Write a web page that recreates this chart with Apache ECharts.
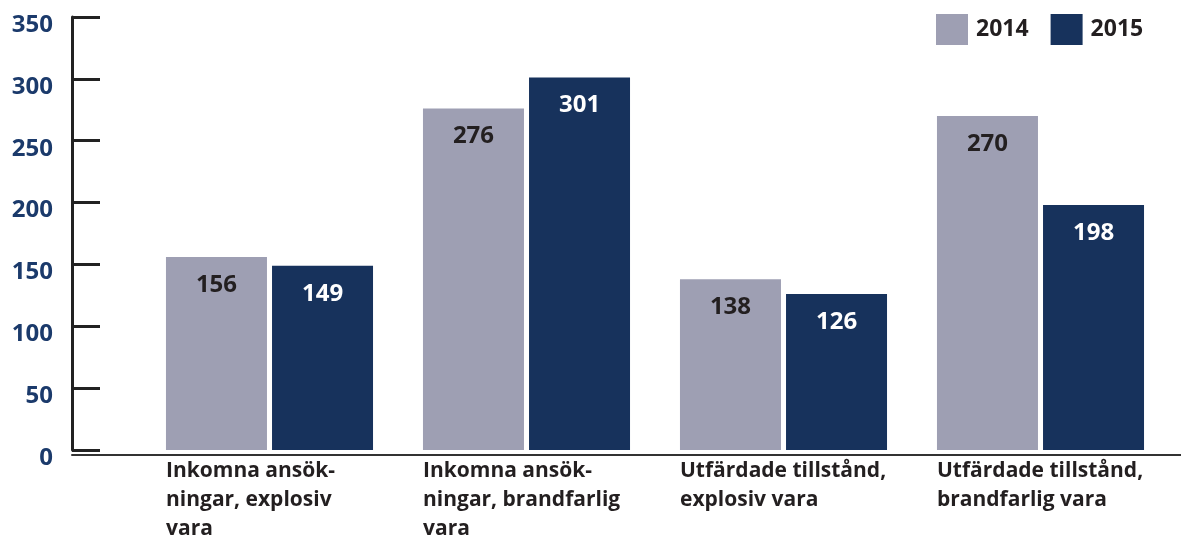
<!DOCTYPE html>
<html>
<head>
<meta charset="utf-8">
<script src="https://cdn.jsdelivr.net/npm/echarts@6/dist/echarts.min.js"></script>
<style>
  html, body { margin: 0; padding: 0; background: #fff; }
  #chart { width: 1181px; height: 540px; }
</style>
</head>
<body>
<div id="chart"></div>
<script>
const categories = [
  'Inkomna ansök-\nningar, explosiv\nvara',
  'Inkomna ansök-\nningar, brandfarlig\nvara',
  'Utfärdade tillstånd,\nexplosiv vara',
  'Utfärdade tillstånd,\nbrandfarlig vara'
]
const values2014 = [156, 276, 138, 270]
const values2015 = [149, 301, 126, 198]
const seriesNames = ['2014', '2015']

const FONT = '"Open Sans", "Noto Sans", sans-serif'
const TEXT = '#231f20'
const NAVY = '#17325c'
const GREY = '#9e9fb3'

const chart = echarts.init(document.getElementById('chart'))

const option = {
  animation: false,
  textStyle: { fontFamily: FONT },
  legend: {
    data: seriesNames,
    left: 936,
    top: 14,
    padding: 0,
    icon: 'rect',
    itemWidth: 32,
    itemHeight: 31,
    itemGap: 22,
    itemStyle: { borderWidth: 0 },
    textStyle: { fontSize: 23, fontWeight: 'bold', color: TEXT, fontFamily: FONT, padding: [0, 0, 0, 3] }
  },
  grid: [
    { left: 141, right: 12, top: 17, bottom: 85 },
    { left: 72, right: 0, top: 17, bottom: 85 }
  ],
  xAxis: [
    {
      type: 'category',
      gridIndex: 0,
      data: categories,
      axisLine: { show: false },
      axisTick: { show: false },
      axisLabel: {
        interval: 0,
        margin: 7,
        formatter: v => v.split('\n').map(l => '{a|' + l + '}').join('\n'),
        rich: {
          a: {
            width: 207,
            align: 'left',
            fontSize: 21,
            fontWeight: 'bold',
            lineHeight: 29,
            color: TEXT,
            fontFamily: FONT
          }
        }
      }
    },
    {
      type: 'value',
      gridIndex: 1,
      min: 0,
      max: 1,
      axisLine: { show: true, lineStyle: { color: '#333', width: 2 } },
      axisTick: { show: false },
      axisLabel: { show: false },
      splitLine: { show: false }
    }
  ],
  yAxis: [
    {
      type: 'value',
      gridIndex: 0,
      min: 0,
      max: 350,
      interval: 50,
      offset: 69,
      axisLine: { show: true, lineStyle: { color: '#222', width: 3 } },
      axisTick: { show: true, inside: true, length: 28, lineStyle: { color: '#222', width: 3 } },
      axisLabel: {
        margin: 19,
        fontSize: 24,
        fontWeight: 'bold',
        color: '#1b3a6b',
        fontFamily: FONT,
        verticalAlign: 'top',
        lineHeight: 16
      },
      splitLine: { show: false }
    },
    {
      type: 'value',
      gridIndex: 1,
      min: 0,
      max: 1,
      show: false
    }
  ],
  series: [
    {
      name: seriesNames[0],
      type: 'bar',
      data: values2014,
      barWidth: 101,
      barGap: '5%',
      itemStyle: { color: GREY },
      label: {
        show: true,
        position: 'insideTop',
        distance: 16,
        fontSize: 24,
        fontWeight: 'bold',
        color: TEXT,
        fontFamily: FONT
      }
    },
    {
      name: seriesNames[1],
      type: 'bar',
      data: values2015,
      barWidth: 101,
      barGap: '5%',
      itemStyle: { color: NAVY },
      label: {
        show: true,
        position: 'insideTop',
        distance: 16,
        fontSize: 24,
        fontWeight: 'bold',
        color: '#fff',
        fontFamily: FONT
      }
    }
  ]
}

chart.setOption(option)
window.addEventListener('resize', () => chart.resize())
</script>
</body>
</html>
